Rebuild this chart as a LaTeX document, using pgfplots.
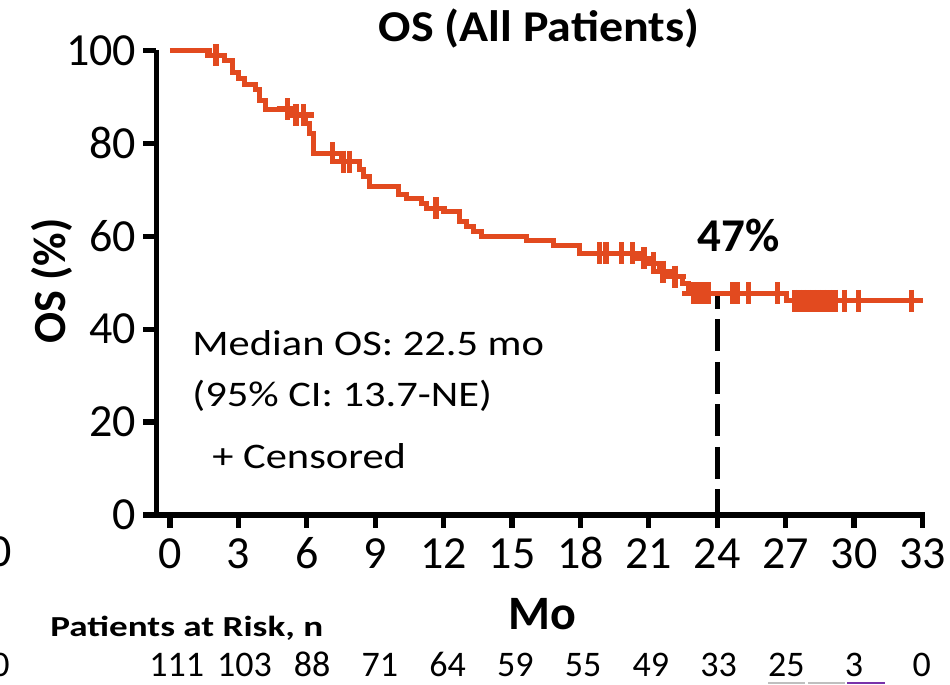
\documentclass[border=0pt]{standalone}
\usepackage{fontspec}
\setmainfont{Carlito}
\newfontfamily\titlefont[FakeStretch=1.09]{Carlito}
\newfontfamily\notefont[FakeStretch=1.18]{Carlito}
\newfontfamily\riskfont[FakeStretch=1.28]{Carlito}
\usepackage{pgfplots}
\pgfplotsset{compat=1.18}
\definecolor{osred}{RGB}{226,74,31}
\definecolor{riskpurple}{RGB}{120,50,170}

\pgfplotstableread{
t S
0 100
1.75 99.0
2.37 97.9
2.73 95.2
3.00 94.0
3.29 92.7
3.73 91.5
3.92 89.2
4.20 87.4
5.44 86.1
5.95 84.3
6.14 82.2
6.29 77.9
7.54 76.1
8.33 74.4
8.48 72.8
8.77 70.8
10.01 68.9
10.38 68.2
11.04 67.0
11.23 66.0
11.99 65.3
12.69 63.1
13.01 62.1
13.30 61.1
13.67 59.9
15.64 59.1
16.81 58.1
17.95 56.3
20.69 55.3
21.18 54.2
21.49 52.4
22.00 51.3
22.49 49.9
22.73 48.1
22.85 47.7
27.05 46.1
33.00 46.1
}\kmtable

\pgfplotstableread{
t S
2.02 99.0
5.16 87.4
5.53 86.1
5.85 86.1
7.14 77.9
7.60 76.1
7.89 76.1
11.67 66.0
18.83 56.3
19.12 56.3
19.81 56.3
20.28 56.3
20.79 55.3
21.19 54.2
21.62 52.4
22.15 51.3
22.95 47.7
23.18 47.7
23.40 47.7
23.62 47.7
24.68 47.7
24.87 47.7
25.36 47.7
26.65 47.7
27.40 46.1
27.60 46.1
27.80 46.1
28.00 46.1
28.20 46.1
28.45 46.1
28.65 46.1
28.90 46.1
29.17 46.1
29.60 46.1
30.19 46.1
32.53 46.1
}\censtable

\begin{document}
\begin{tikzpicture}
\path[use as bounding box] (0,0) rectangle (475pt,342.5pt);
\begin{axis}[
  at={(78.15pt,85pt)}, anchor=south west,
  width=384.2pt, height=232.25pt, scale only axis,
  xmin=-0.6, xmax=33.1, ymin=0, ymax=100,
  axis lines=left,
  axis line style={-, line width=2.6pt, black},
  xtick={0,3,...,33}, ytick={0,20,...,100},
  tick align=outside, major tick length=6.5pt,
  tick style={line width=2.6pt, black},
  tick label style={font=\fontsize{23}{23}\selectfont},
  xticklabel style={text height=15pt, text depth=0pt, yshift=-1.5pt},
  /pgf/number format/assume math mode=true,
  clip=false,
]
\addplot[const plot, osred, line width=2.5pt] table[x=t, y=S] {\kmtable};
\addplot[only marks, mark=+, mark size=5.5pt, osred, mark options={line width=2.6pt}] table[x=t, y=S] {\censtable};
\addplot[black, line width=2.6pt, dash pattern=on 16pt off 5.25pt, dash phase=8.25pt] coordinates {(24,47.7) (24,0)};
\end{axis}
\begin{scope}[x=0.5pt,y=-0.5pt,shift={(0pt,342.5pt)}]
\node[anchor=base, font=\titlefont\bfseries\fontsize{22}{22}\selectfont, inner sep=0] at (539,42) {OS (All Patients)};
\node[anchor=base, font=\bfseries\fontsize{23.5}{23.5}\selectfont, inner sep=0] at (738.5,251.7) {47\%};
\node[anchor=base west, inner sep=0, font=\notefont\fontsize{18}{18}\selectfont] at (192,356) {Median OS: 22.5 mo};
\node[anchor=base west, inner sep=0, font=\notefont\fontsize{18}{18}\selectfont] at (192,407) {(95\% CI: 13.7-NE)};
\node[anchor=base west, inner sep=0, font=\notefont\fontsize{18}{18}\selectfont] at (212,468.3) {+ Censored};
\node[rotate=90, font=\bfseries\fontsize{23}{23}\selectfont, inner sep=0] at (52,281) {OS (\%)};
\node[anchor=base, font=\bfseries\fontsize{24}{24}\selectfont, inner sep=0] at (542,630) {Mo};
\node[anchor=base west, font=\riskfont\bfseries\fontsize{14.5}{14.5}\selectfont, inner sep=0] at (50,636.7) {Patients at Risk, n};
\foreach \n [count=\i from 0] in {111,103,88,71,64,59,55,49,33,25,3,0}
  \node[anchor=base, font=\fontsize{18}{18}\selectfont, inner sep=0, text depth=0pt] at ({176.7+67.73*\i},677) {\n};
\node[anchor=base east, inner sep=0, font=\fontsize{23}{23}\selectfont] at (12,567) {0};
\node[anchor=base east, inner sep=0, text depth=0pt, font=\fontsize{18}{18}\selectfont] at (10,677) {0};
\draw[gray!50, line width=0.8pt] (768,683)--(805,683);
\draw[gray!50, line width=0.8pt] (808,683)--(845,683);
\draw[riskpurple, line width=0.8pt] (847,683)--(885,683);
\end{scope}
\end{tikzpicture}
\end{document}
